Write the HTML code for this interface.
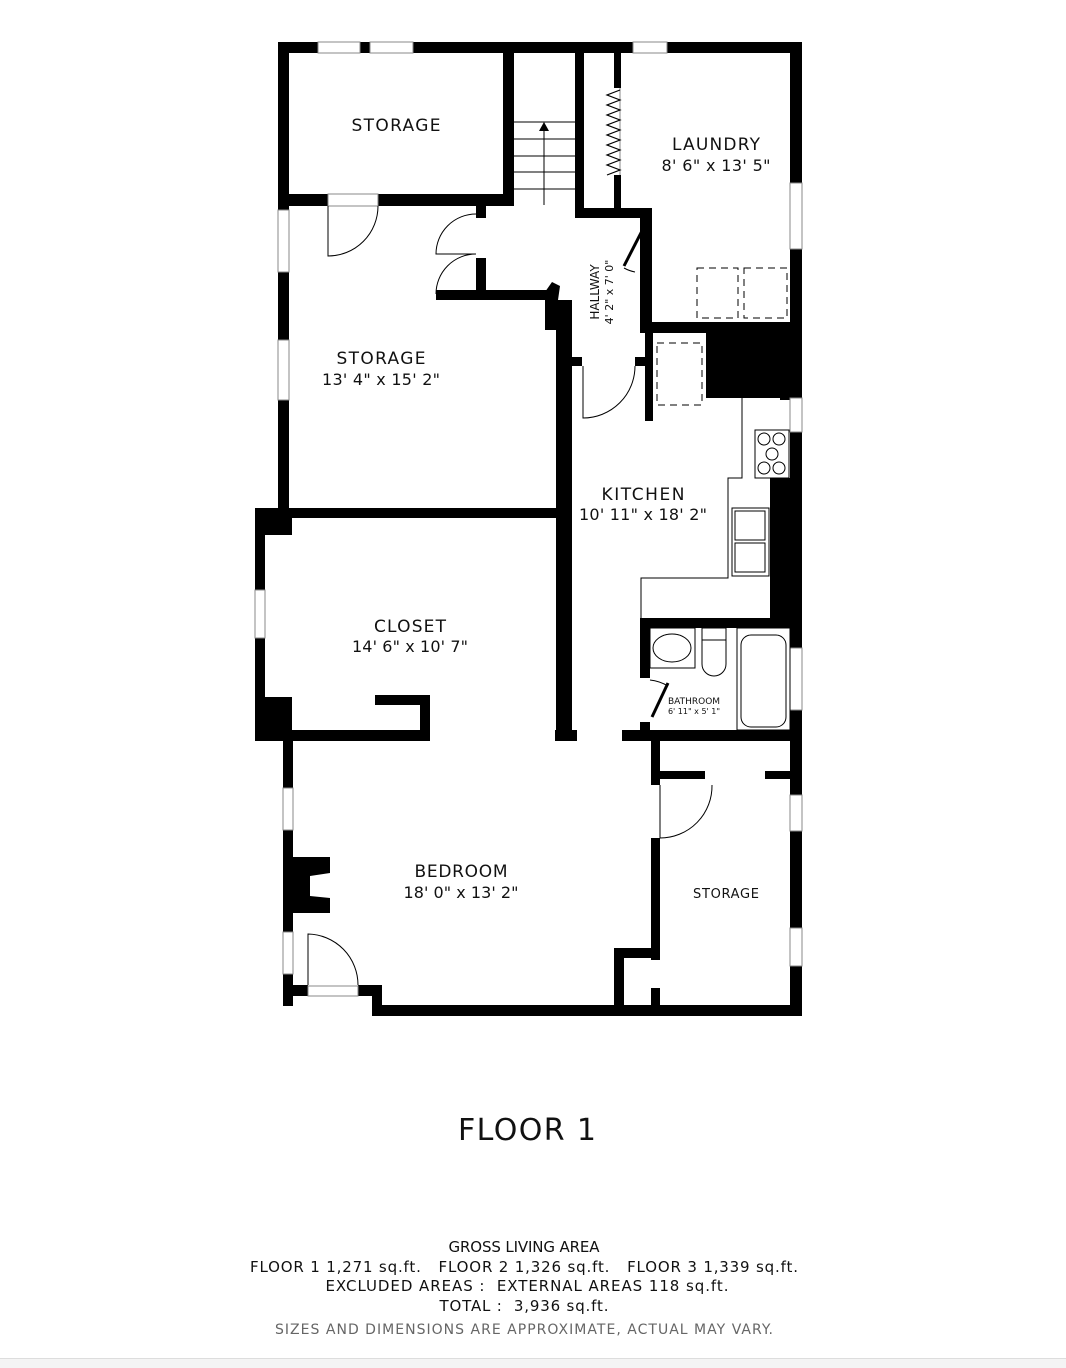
<!DOCTYPE html><html><head><meta charset="utf-8"><style>
html,body{margin:0;padding:0;background:#fff}
body{width:1066px;height:1368px;position:relative;overflow:hidden;font-family:"DejaVu Sans","Liberation Sans",sans-serif}
text{white-space:pre}
</style></head><body>
<svg width="1066" height="1368" viewBox="0 0 1066 1368" xmlns="http://www.w3.org/2000/svg" xml:space="preserve" style="position:absolute;left:0;top:0">
<g fill="#000">
<rect x="278" y="42" width="524" height="11"/>
<rect x="278" y="42" width="11" height="466"/>
<rect x="790" y="42" width="12" height="974"/>
<rect x="278" y="194" width="236" height="12"/>
<rect x="503" y="52" width="11" height="154"/>
<rect x="575" y="52" width="9" height="166"/>
<rect x="614" y="52" width="7" height="36"/>
<rect x="614" y="175" width="7" height="35"/>
<rect x="575" y="208" width="77" height="10"/>
<rect x="640" y="208" width="12" height="125"/>
<rect x="640" y="322" width="162" height="11"/>
<rect x="476" y="206" width="10" height="12"/>
<rect x="476" y="258" width="10" height="34"/>
<rect x="436" y="290" width="122" height="10"/>
<polygon points="545,292 552,282 560,286 558,300 558,330 545,330"/>
<rect x="556" y="300" width="16" height="441"/>
<rect x="572" y="357" width="10" height="9"/>
<rect x="635" y="357" width="17" height="9"/>
<rect x="645" y="333" width="8" height="88"/>
<rect x="706" y="330" width="96" height="68"/>
<rect x="780" y="330" width="22" height="70"/>
<rect x="770" y="478" width="32" height="150"/>
<rect x="255" y="508" width="301" height="10"/>
<rect x="255" y="508" width="37" height="27"/>
<rect x="255" y="508" width="10" height="232"/>
<rect x="255" y="697" width="37" height="44"/>
<rect x="290" y="730" width="140" height="11"/>
<rect x="375" y="695" width="55" height="10"/>
<rect x="420" y="695" width="10" height="46"/>
<rect x="555" y="730" width="22" height="11"/>
<rect x="640" y="618" width="162" height="10"/>
<rect x="640" y="618" width="10" height="60"/>
<rect x="640" y="722" width="10" height="19"/>
<rect x="622" y="730" width="180" height="11"/>
<rect x="283" y="736" width="10" height="270"/>
<rect x="283" y="857" width="47" height="56"/>
<rect x="283" y="985" width="25" height="11"/>
<rect x="358" y="985" width="24" height="11"/>
<rect x="372" y="985" width="10" height="31"/>
<rect x="372" y="1005" width="430" height="11"/>
<rect x="651" y="741" width="9" height="44"/>
<rect x="651" y="838" width="9" height="122"/>
<rect x="614" y="948" width="46" height="10"/>
<rect x="614" y="948" width="10" height="62"/>
<rect x="651" y="988" width="9" height="22"/>
<rect x="660" y="771" width="45" height="8"/>
<rect x="765" y="771" width="30" height="8"/>
</g>
<polygon points="310,876 330,873 330,898 310,896" fill="#fff"/>
<g fill="#fff" stroke="#888" stroke-width="1">
<rect x="318" y="42" width="42" height="11"/><rect x="370" y="42" width="43" height="11"/>
<rect x="633" y="42" width="34" height="11"/>
<rect x="790" y="183" width="12" height="66"/><rect x="790" y="398" width="12" height="34"/>
<rect x="790" y="648" width="12" height="62"/>
<rect x="790" y="795" width="12" height="36"/><rect x="790" y="928" width="12" height="38"/>
<rect x="278" y="210" width="11" height="62"/><rect x="278" y="340" width="11" height="60"/>
<rect x="255" y="590" width="10" height="48"/>
<rect x="283" y="788" width="10" height="42"/><rect x="283" y="932" width="10" height="42"/>
<rect x="308" y="986" width="50" height="10"/>
<rect x="328" y="194" width="50" height="12"/>
</g>
<g fill="none" stroke="#000" stroke-width="1">
<line x1="514" y1="122" x2="575" y2="122"/><line x1="514" y1="139" x2="575" y2="139"/>
<line x1="514" y1="156" x2="575" y2="156"/><line x1="514" y1="172" x2="575" y2="172"/><line x1="514" y1="189" x2="575" y2="189"/>
<line x1="544" y1="130" x2="544" y2="205"/>
<line x1="620" y1="88" x2="620" y2="175" stroke="#888"/>
<path d="M328,206 L328,256 A50,50 0 0 0 378,206"/>
<path d="M476,214 A40,40 0 0 0 436,254 L476,254 M476,254 A40,40 0 0 0 436,294"/>
<path d="M583,366 L583,418 A52,52 0 0 0 635,366"/>
<path d="M660,785 L660,838 A52,52 0 0 0 712,785"/>
<path d="M308,985 L308,934 A51,51 0 0 1 358,985"/>
<path d="M624,268 A38,38 0 0 0 635,272"/>
<path d="M650,680 A45,45 0 0 1 668,686"/>
<path d="M742,398 L742,478 L728,478 L728,578 L641,578 L641,618"/>
<rect x="755" y="430" width="34" height="48"/>
<rect x="732" y="508" width="37" height="68"/>
<rect x="735" y="511" width="30" height="29"/><rect x="735" y="543" width="30" height="29"/>
<circle cx="764" cy="439" r="6"/><circle cx="779" cy="439" r="6"/><circle cx="772" cy="454" r="6"/>
<circle cx="764" cy="468" r="6"/><circle cx="779" cy="468" r="6"/>
<rect x="650" y="628" width="45" height="40"/><ellipse cx="672" cy="648" rx="19" ry="14"/>
<rect x="702" y="628" width="24" height="12"/><path d="M702,640 L702,664 A12,12 0 0 0 726,664 L726,640"/>
<rect x="737" y="628" width="53" height="102"/><rect x="741" y="635" width="45" height="92" rx="10"/>
<g stroke-dasharray="7,5"><rect x="697" y="268" width="41" height="50"/><rect x="744" y="268" width="43" height="50"/><rect x="657" y="343" width="45" height="62"/></g>
</g>
<polyline fill="none" stroke="#000" stroke-width="1.2" points="620,90 607,95 620,100 607,105 620,110 607,115 620,120 607,125 620,130 607,135 620,140 607,145 620,150 607,155 620,160 607,165 620,170 607,175"/>
<g stroke="#000" stroke-width="3"><line x1="624" y1="266" x2="645" y2="225"/><line x1="652" y1="717" x2="668" y2="683"/></g>
<polygon points="544,122 539,131 549,131"/>
<g font-family="'DejaVu Sans','Liberation Sans',sans-serif" fill="#111" text-anchor="middle">
<text x="396" y="131" font-size="17" textLength="89">STORAGE</text>
<text x="716" y="150" font-size="17" textLength="88">LAUNDRY</text>
<text x="716" y="171" font-size="16" textLength="109">8' 6" x 13' 5"</text>
<text x="381" y="364" font-size="17" textLength="89">STORAGE</text>
<text x="381" y="385" font-size="16" textLength="118">13' 4" x 15' 2"</text>
<text x="643" y="500" font-size="17" textLength="83">KITCHEN</text>
<text x="643" y="520" font-size="16" textLength="128">10' 11" x 18' 2"</text>
<text x="410" y="632" font-size="17" textLength="72">CLOSET</text>
<text x="410" y="652" font-size="16" textLength="116">14' 6" x 10' 7"</text>
<text x="461" y="877" font-size="17" textLength="93">BEDROOM</text>
<text x="461" y="898" font-size="16" textLength="115">18' 0" x 13' 2"</text>
<text x="726" y="898" font-size="13" textLength="66">STORAGE</text>
<text x="694" y="704" font-size="9">BATHROOM</text>
<text x="694" y="714" font-size="8">6' 11" x 5' 1"</text>
<text transform="translate(599,292) rotate(-90)" font-size="12">HALLWAY</text>
<text transform="translate(613,292) rotate(-90)" font-size="11">4' 2" x 7' 0"</text>
<text x="527" y="1140" font-size="30" textLength="138">FLOOR 1</text>
<text x="524" y="1252" font-size="15" textLength="151">GROSS LIVING AREA</text>
<text x="524" y="1272" font-size="15" textLength="548">FLOOR 1 1,271 sq.ft.   FLOOR 2 1,326 sq.ft.   FLOOR 3 1,339 sq.ft.</text>
<text x="527" y="1291" font-size="15" textLength="403">EXCLUDED AREAS :  EXTERNAL AREAS 118 sq.ft.</text>
<text x="524" y="1311" font-size="15" textLength="169">TOTAL :  3,936 sq.ft.</text>
<text x="524" y="1334" font-size="14" fill="#666" textLength="498">SIZES AND DIMENSIONS ARE APPROXIMATE, ACTUAL MAY VARY.</text>
</g>
<rect x="0" y="1358" width="1066" height="10" fill="#f4f4f4"/>
<line x1="0" y1="1358.5" x2="1066" y2="1358.5" stroke="#ddd"/>
</svg>
</body></html>
